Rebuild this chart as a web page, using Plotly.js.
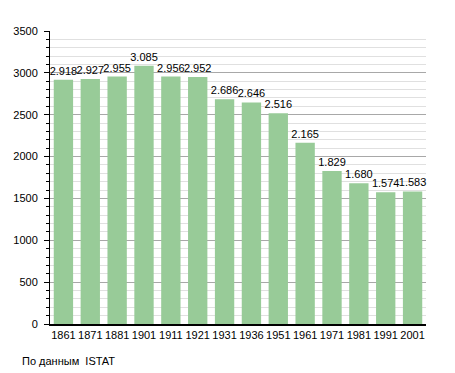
<!DOCTYPE html>
<html><head><meta charset="utf-8">
<script src="https://cdn.plot.ly/plotly-3.0.1.min.js"></script>
<style>body{margin:0;padding:0;background:#fff}#chart{width:455px;height:373px}</style>
</head><body><div id="chart"></div>
<script>
const years = ['1861','1871','1881','1901','1911','1921','1931','1936','1951','1961','1971','1981','1991','2001'];
const population = [2918,2927,2955,3085,2956,2952,2686,2646,2516,2165,1829,1680,1574,1583];
const labels = ['2.918','2.927','2.955','3.085','2.956','2.952','2.686','2.646','2.516','2.165','1.829','1.680','1.574','1.583'];
const sourceNote = 'По данным  ISTAT';

Plotly.newPlot('chart', [{
  type: 'bar', x: years, y: population, text: labels,
  textposition: 'outside', constraintext: 'none', cliponaxis: false,
  textfont: {family: 'Liberation Sans, Arial, sans-serif', size: 11, color: '#000'},
  marker: {color: '#98cb98'}, width: 0.72, hoverinfo: 'none'
}], {
  width: 455, height: 373,
  margin: {l: 50, r: 29, t: 31, b: 49},
  paper_bgcolor: '#fff', plot_bgcolor: '#fff',
  font: {family: 'Liberation Sans, Arial, sans-serif', size: 11, color: '#000'},
  showlegend: false,
  xaxis: {type: 'category', showline: true, linecolor: '#000', linewidth: 1.5, ticks: '', tickfont: {size: 11}, showgrid: false, fixedrange: true},
  yaxis: {range: [0, 3500], dtick: 500, tick0: 0, showline: true, linecolor: '#000', linewidth: 1,
    ticks: 'outside', ticklen: 5, tickcolor: '#000', showgrid: true, gridcolor: '#a8a8a8', zeroline: false,
    ticklabelstandoff: 4,
    minor: {dtick: 100, ticks: 'outside', ticklen: 3, tickcolor: '#000', showgrid: true, gridcolor: '#e0e0e0'},
    tickfont: {size: 11}, fixedrange: true},
  annotations: [{text: sourceNote, xref: 'paper', yref: 'paper', x: -0.08, y: -0.126, xanchor: 'left', yanchor: 'middle', showarrow: false, font: {size: 11}}]
}, {staticPlot: true});
</script></body></html>
